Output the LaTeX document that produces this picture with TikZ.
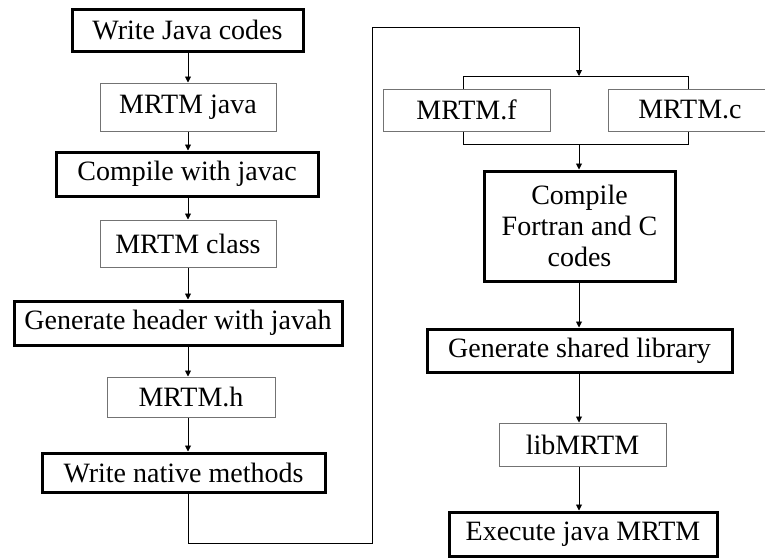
\documentclass[tikz,border=0pt]{standalone}
\usepackage{fontspec}
\setmainfont{Liberation Serif}
\usetikzlibrary{arrows.meta}
\begin{document}
\begin{tikzpicture}[x=1pt,y=-1pt,
  every node/.style={font=\fontsize{28}{31}\selectfont, inner sep=0pt, align=center},
  action/.style={draw=black, line width=3pt, fill=white},
  artifact/.style={draw=black!55, line width=1pt, fill=white},
  flow/.style={draw=black, line width=0.9pt, -{Triangle[length=6pt,width=6pt]}},
  link/.style={draw=black, line width=0.9pt}]
\useasboundingbox (0,0) rectangle (765,557);
\clip (0,0) rectangle (765,557);

% Java side
\node[action,   minimum width=231pt, minimum height=42pt] (wj) at (187.5,30)  {Write Java codes};
\node[artifact, minimum width=176pt, minimum height=48pt] (mj) at (188,107)   {MRTM java};
\node[action,   minimum width=262pt, minimum height=44pt] (cj) at (187,174)   {Compile with javac};
\node[artifact, minimum width=176pt, minimum height=47pt] (mc) at (188,243.5) {MRTM class};
\node[action,   minimum width=328pt, minimum height=44pt] (gh) at (178,323)   {Generate header with javah};
\node[artifact, minimum width=168pt, minimum height=40pt] (mh) at (191,397)   {MRTM.h};
\node[action,   minimum width=283pt, minimum height=39pt] (wn) at (183.5,472.5) {Write native methods};

% native side
\node[artifact, minimum width=167pt, minimum height=42pt] (mf) at (466.5,110) {MRTM.f};
\node[artifact, minimum width=164pt, minimum height=42pt] (mcc) at (690,110)  {MRTM.c};
\node[action,   minimum width=191pt, minimum height=110pt] (cf) at (579.5,226) {Compile\\Fortran and C\\codes};
\node[action,   minimum width=305pt, minimum height=43pt] (gs) at (579.5,350.5) {Generate shared library};
\node[artifact, minimum width=167pt, minimum height=43pt] (lib) at (582.5,444.5) {libMRTM};
\node[action,   minimum width=268pt, minimum height=44pt] (ej) at (583,534) {Execute java MRTM};

% joints of the source brackets
\coordinate (top) at (579,76);
\coordinate (bot) at (579,144);

% Java chain
\draw[flow] (wj.south -| 188,0) -- (mj.north -| 188,0);
\draw[flow] (mj.south -| 188,0) -- (cj.north -| 188,0);
\draw[flow] (cj.south -| 188,0) -- (mc.north -| 188,0);
\draw[flow] (mc.south -| 188,0) -- (gh.north -| 188,0);
\draw[flow] (gh.south -| 188,0) -- (mh.north -| 188,0);
\draw[flow] (mh.south -| 188,0) -- (wn.north -| 188,0);

% loop over to the native sources
\draw[flow] (wn.south -| 188,0) -- (188,543) -- (372,543) -- (372,27) -- (579,27) -- (top);

% brackets around MRTM.f and MRTM.c
\draw[link] (mf.north -| 463,0) -- (463,76) -- (688,76) -- (mcc.north -| 688,0);
\draw[link] (mf.south -| 463,0) -- (463,144) -- (688,144) -- (mcc.south -| 688,0);

% native chain
\draw[flow] (bot) -- (cf.north -| 579,0);
\draw[flow] (cf.south -| 579,0) -- (gs.north -| 579,0);
\draw[flow] (gs.south -| 579,0) -- (lib.north -| 579,0);
\draw[flow] (lib.south -| 579,0) -- (ej.north -| 579,0);
\end{tikzpicture}
\end{document}
